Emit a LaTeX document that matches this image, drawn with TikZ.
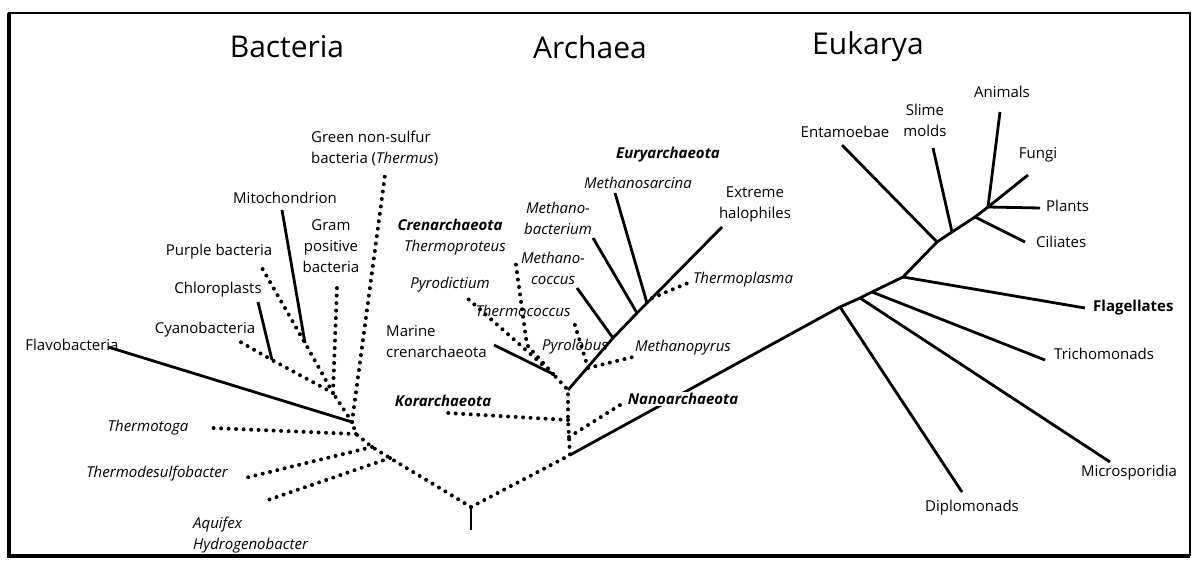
\documentclass[tikz,border=0pt]{standalone}
\usepackage{fontspec}
\setmainfont{Open Sans}
\newcommand\labfont{\fontsize{15}{21}\selectfont}
\newcommand\ttlfont{\fontsize{30}{36}\selectfont}
\tikzset{
    sbr/.style={line width=2.8pt},
    dbr/.style={line width=4pt, line cap=round, dash pattern=on 0pt off 7.5pt},
    lab/.style={font=\labfont, inner sep=0pt, align=center},
    ilab/.style={lab, font=\labfont\itshape},
    bilab/.style={lab, font=\labfont\bfseries\itshape},
    ttl/.style={font=\ttlfont, inner sep=0pt}
}
\begin{document}
\begin{tikzpicture}[x=1pt, y=-1pt]
    \useasboundingbox (0,0) rectangle (1196,564);
    \draw[line width=2.2pt] (9,13) rectangle (1190,555);
    \draw[line width=4.5pt] (9,13) -- (9,556) -- (1190,556);

    \coordinate (root) at (471,507);
    \coordinate (rootT) at (471,530);
    \draw[sbr] (root) -- (rootT);

    \coordinate (b1) at (390,458);
    \coordinate (b2) at (372,447);
    \coordinate (b3) at (356,434);
    \coordinate (b4) at (352,422);
    \coordinate (b5) at (333,393);
    \coordinate (aqu) at (268,500);
    \coordinate (tds) at (245,478);
    \coordinate (tga) at (212,428);
    \coordinate (flv) at (108,347);
    \coordinate (gns) at (385,175);
    \coordinate (grp) at (337,287);
    \coordinate (pur) at (262,268);
    \coordinate (mit) at (305,343);
    \coordinate (mitE) at (282,210);
    \coordinate (cya) at (237,340);
    \coordinate (chl) at (272,360);
    \coordinate (chlE) at (258,302);

    \draw[dbr] (root) -- (b1) -- (b2) -- (b3) -- (b4);
    \draw[dbr] (b1) -- (aqu);
    \draw[dbr] (b2) -- (tds);
    \draw[dbr] (b3) -- (tga);
    \draw[sbr] (b4) -- (flv);
    \draw[dbr] (b4) -- (gns);
    \draw[dbr] (b4) -- (b5);
    \draw[dbr] (b5) -- (grp);
    \draw[dbr] (b5) -- (mit) -- (pur);
    \draw[sbr] (mit) -- (mitE);
    \draw[dbr] (b5) -- (chl) -- (cya);
    \draw[sbr] (chl) -- (chlE);

    \coordinate (e0) at (570,455);
    \coordinate (a1) at (569,437);
    \coordinate (a2) at (568,420);
    \coordinate (a3) at (568,390);
    \coordinate (c0) at (553,374);
    \coordinate (nan) at (620,405);
    \coordinate (kor) at (448,413);
    \coordinate (mar) at (494,345);
    \coordinate (pyd) at (467,298);
    \coordinate (tpr) at (515,258);
    \coordinate (tprm) at (527,345);
    \coordinate (eu1) at (613,338);
    \coordinate (mpy) at (588,368);
    \coordinate (mpyE) at (633,357);
    \coordinate (tco) at (574,322);
    \coordinate (mcoE) at (577,288);
    \coordinate (eu2) at (637,313);
    \coordinate (mbaE) at (593,238);
    \coordinate (eu3) at (647,303);
    \coordinate (msaE) at (615,193);
    \coordinate (eu4) at (652,298);
    \coordinate (tplE) at (688,283);
    \coordinate (hal) at (722,227);

    \draw[dbr] (root) -- (e0) -- (a1) -- (a2) -- (a3) -- (c0);
    \draw[dbr] (a1) -- (nan);
    \draw[dbr] (a2) -- (kor);
    \draw[sbr] (c0) -- (mar);
    \draw[dbr] (c0) -- (pyd);
    \draw[dbr] (c0) -- (tprm) -- (tpr);
    \draw[sbr] (a3) -- (eu1) -- (eu2) -- (eu3) -- (eu4) -- (hal);
    \draw[dbr] (mpy) -- (mpyE);
    \draw[dbr] (mpy) -- (tco);
    \draw[sbr] (eu1) -- (mcoE);
    \draw[sbr] (eu2) -- (mbaE);
    \draw[sbr] (eu3) -- (msaE);
    \draw[dbr] (eu4) -- (tplE);

    \coordinate (k1) at (840,307);
    \coordinate (k2) at (860,298);
    \coordinate (k3) at (872,292);
    \coordinate (k4) at (903,277);
    \coordinate (k5) at (937,242);
    \coordinate (k6) at (952,232);
    \coordinate (k7) at (975,217);
    \coordinate (k8) at (988,207);
    \coordinate (dip) at (962,492);
    \coordinate (mic) at (1110,462);
    \coordinate (tri) at (1045,360);
    \coordinate (fla) at (1085,308);
    \coordinate (ent) at (842,145);
    \coordinate (sli) at (933,148);
    \coordinate (cil) at (1025,242);
    \coordinate (pla) at (1040,208);
    \coordinate (fun) at (1028,175);
    \coordinate (ani) at (1000,112);

    \draw[sbr] (e0) -- (k1) -- (k2) -- (k3) -- (k4) -- (k5) -- (k6) -- (k7) -- (k8);
    \draw[sbr] (k1) -- (dip);
    \draw[sbr] (k2) -- (mic);
    \draw[sbr] (k3) -- (tri);
    \draw[sbr] (k4) -- (fla);
    \draw[sbr] (k5) -- (ent);
    \draw[sbr] (k6) -- (sli);
    \draw[sbr] (k7) -- (cil);
    \draw[sbr] (k8) -- (pla);
    \draw[sbr] (k8) -- (fun);
    \draw[sbr] (k8) -- (ani);

    \node[ttl] (tbac) at (287,47) {Bacteria};
    \node[lab] (lflv) at (72,345) {Flavobacteria};
    \node[ilab] (ltga) at (148,428) {Thermotoga};
    \node[ilab] (ltds) at (157,474) {Thermodesulfobacter};
    \node[ilab, anchor=west] (laqu) at (193,525) {Aquifex};
    \node[ilab, anchor=west] (lhyd) at (193,546) {Hydrogenobacter};
    \node[lab] (lcya) at (205,330) {Cyanobacteria};
    \node[lab] (lchl) at (218,290) {Chloroplasts};
    \node[lab] (lpur) at (219,252) {Purple bacteria};
    \node[lab] (lmit) at (285,198) {Mitochondrion};
    \node[lab] (lgrp) at (331,246) {Gram\\positive\\bacteria};
    \node[lab, align=left, anchor=west] (lgns) at (311,148) {Green non-sulfur\\bacteria (\textit{Thermus})};

    \node[ttl] (tarc) at (590,47) {Archaea};
    \node[bilab] (lcre) at (450,225) {Crenarchaeota};
    \node[ilab] (ltpr) at (455,248) {Thermoproteus};
    \node[ilab] (lpyd) at (450,285) {Pyrodictium};
    \node[ilab] (ltco) at (523,311) {Thermococcus};
    \node[lab, align=left, anchor=west] (lmar) at (386,342) {Marine\\crenarchaeota};
    \node[ilab] (lpyl) at (575,347) {Pyrolobus};
    \node[ilab] (lmpy) at (683,348) {Methanopyrus};
    \node[bilab] (lkor) at (443,401) {Korarchaeota};
    \node[bilab, fill=white, inner sep=1pt] (lnan) at (683,399) {Nanoarchaeota};
    \node[bilab] (leur) at (668,155) {Euryarchaeota};
    \node[ilab] (lmsa) at (638,183) {Methanosarcina};
    \node[ilab] (lmba) at (558,218) {Methano-\\bacterium};
    \node[ilab] (lmco) at (553,268) {Methano-\\coccus};
    \node[lab] (lhal) at (755,204) {Extreme\\halophiles};
    \node[ilab] (ltpl) at (743,280) {Thermoplasma};

    \node[ttl] (teuk) at (868,47) {Eukarya};
    \node[lab] (lent) at (845,132) {Entamoebae};
    \node[lab] (lsli) at (925,120) {Slime\\molds};
    \node[lab] (lani) at (1002,92) {Animals};
    \node[lab] (lfun) at (1038,155) {Fungi};
    \node[lab, anchor=west] (lpla) at (1046,206) {Plants};
    \node[lab, anchor=west] (lcil) at (1036,242) {Ciliates};
    \node[lab, font=\labfont\bfseries, anchor=west] (lfla) at (1093,308) {Flagellates};
    \node[lab, anchor=west] (ltri) at (1054,354) {Trichomonads};
    \node[lab] (lmic) at (1129,473) {Microsporidia};
    \node[lab] (ldip) at (972,508) {Diplomonads};
\end{tikzpicture}
\end{document}
